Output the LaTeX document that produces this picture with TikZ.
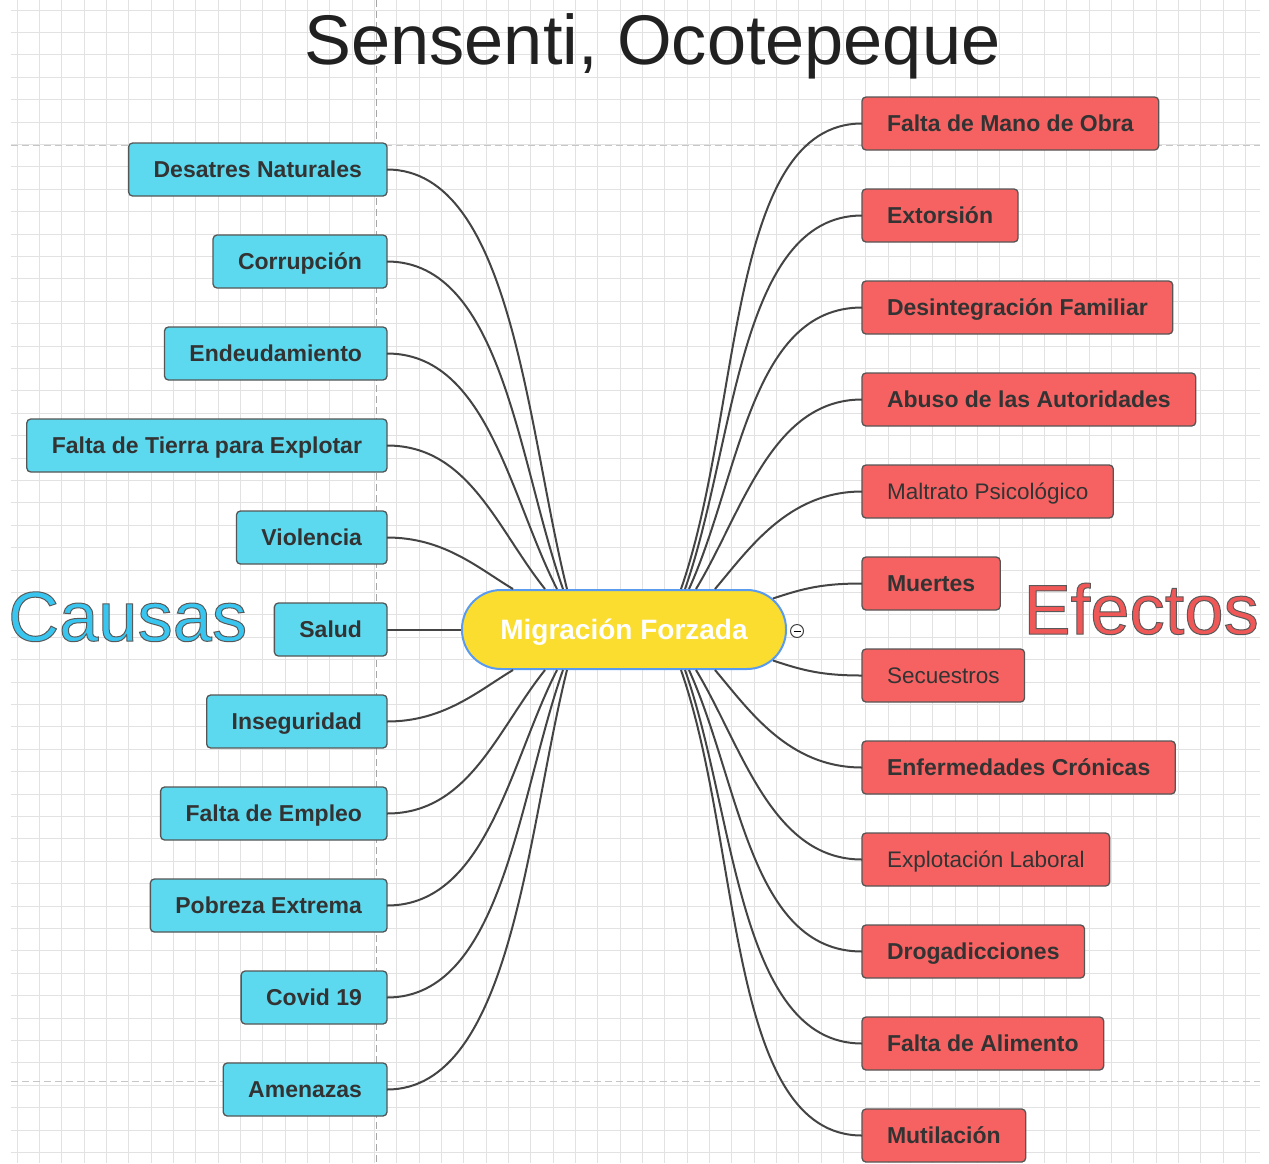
\documentclass[tikz,border=0pt]{standalone}
\usepackage{fontspec}
\setmainfont{Liberation Sans}
\usetikzlibrary{positioning,calc}

\definecolor{cyancausa}{RGB}{93,217,239}
\definecolor{rojoefecto}{RGB}{246,98,98}
\definecolor{amarillo}{RGB}{250,221,46}
\definecolor{azulborde}{RGB}{90,155,240}
\definecolor{gristexto}{RGB}{51,51,51}
\definecolor{grisborde}{RGB}{85,85,85}
\definecolor{grislinea}{RGB}{68,68,68}
\definecolor{cuadricula}{RGB}{226,226,226}
\definecolor{causastit}{RGB}{56,198,240}
\definecolor{efectostit}{RGB}{240,88,88}

% texto con contorno gris fino
\newcommand{\contorno}[1]{\special{pdf:literal direct 2 Tr 1 w 0.35 0.35 0.35 RG}#1\special{pdf:literal direct 0 Tr}}

\begin{document}
\begin{tikzpicture}[
  x=1pt, y=-1pt,
  node distance=39pt,
  caja/.style={draw=grisborde, line width=1.3pt, rounded corners=4pt,
    minimum height=53pt, inner xsep=25pt, inner ysep=0pt, outer sep=0pt,
    text height=20pt, text depth=3.9pt, text=gristexto,
    font=\bfseries\fontsize{23}{27}\selectfont},
  causa/.style={caja, fill=cyancausa, anchor=east},
  efecto/.style={caja, fill=rojoefecto, anchor=west},
  fino/.style={font=\fontsize{22.5}{27}\selectfont},
  rama/.style={draw=grislinea, line width=2pt},
  rejilla/.style={cuadricula, line width=1pt},
  corte/.style={line width=1pt, dash pattern=on 7pt off 4pt}
]

% Fondo y cuadrícula
\fill[white] (0,0) rectangle (1269,1163);
\useasboundingbox (0,0) rectangle (1269,1163);
\foreach \k in {0,...,55}
  \draw[rejilla] (17.3+22.33*\k,0) -- (17.3+22.33*\k,1163);
\foreach \k in {0,...,51}
  \draw[rejilla] (11,10+22.4*\k) -- (1260,10+22.4*\k);
\draw[corte, gray!45] (11,145) -- (1260,145);
\draw[corte, gray!45] (11,1081) -- (1260,1081);
\draw[corte, gray!70] (376,0) -- (376,1163);

% Títulos
\node[anchor=base, inner sep=0pt, text=black!87,
  font=\fontsize{70.3}{84}\selectfont] (titulo) at (652.5,64) {Sensenti, Ocotepeque};
\node[anchor=base west, inner sep=0pt,
  font=\fontsize{70.5}{80}\selectfont] (causas) at (8,641) {\color{causastit}\contorno{Causas}};
\node[anchor=base east, inner sep=0pt,
  font=\fontsize{70.5}{80}\selectfont] (efectos) at (1259,634) {\color{efectostit}\contorno{Efectos}};

% Nodo central
\node[draw=azulborde, line width=2pt, fill=amarillo, rounded corners=39pt,
  minimum width=324pt, minimum height=79pt, text=white,
  text height=24pt, text depth=4pt,
  font=\bfseries\fontsize{28}{34}\selectfont] (mf) at (624,629.5) {Migración Forzada};
\node[circle, draw=black!75, fill=white, line width=1pt, minimum size=13pt,
  inner sep=0pt] (plegar) at (797,631) {\rule[-0.5pt]{7pt}{1pt}};

% Causas
\node[causa] (desastres) at (387,169.5) {Desatres Naturales};
\node[causa, below=of desastres.south east, anchor=north east] (corrupcion) {Corrupción};
\node[causa, below=of corrupcion.south east, anchor=north east] (endeuda) {Endeudamiento};
\node[causa, below=of endeuda.south east, anchor=north east] (tierra) {Falta de Tierra para Explotar};
\node[causa, below=of tierra.south east, anchor=north east] (violencia) {Violencia};
\node[causa, below=of violencia.south east, anchor=north east] (salud) {Salud};
\node[causa, below=of salud.south east, anchor=north east] (inseg) {Inseguridad};
\node[causa, below=of inseg.south east, anchor=north east] (empleo) {Falta de Empleo};
\node[causa, below=of empleo.south east, anchor=north east] (pobreza) {Pobreza Extrema};
\node[causa, below=of pobreza.south east, anchor=north east] (covid) {Covid 19};
\node[causa, below=of covid.south east, anchor=north east] (amenazas) {Amenazas};

% Efectos
\node[efecto] (manoobra) at (862,123.5) {Falta de Mano de Obra};
\node[efecto, below=of manoobra.south west, anchor=north west] (extorsion) {Extorsión};
\node[efecto, below=of extorsion.south west, anchor=north west] (desinteg) {Desintegración Familiar};
\node[efecto, below=of desinteg.south west, anchor=north west] (abuso) {Abuso de las Autoridades};
\node[efecto, fino, below=of abuso.south west, anchor=north west] (maltrato) {Maltrato Psicológico};
\node[efecto, below=of maltrato.south west, anchor=north west] (muertes) {Muertes};
\node[efecto, fino, below=of muertes.south west, anchor=north west] (secuestros) {Secuestros};
\node[efecto, below=of secuestros.south west, anchor=north west] (enferm) {Enfermedades Crónicas};
\node[efecto, fino, below=of enferm.south west, anchor=north west] (explot) {Explotación Laboral};
\node[efecto, below=of explot.south west, anchor=north west] (drogas) {Drogadicciones};
\node[efecto, below=of drogas.south west, anchor=north west] (alimento) {Falta de Alimento};
\node[efecto, below=of alimento.south west, anchor=north west] (mutilacion) {Mutilación};

% Ramas de las causas
\draw[rama] (desastres.east) .. controls +(125,0) and +(-40,-160) .. ($(mf.north)+(-57,0)$);
\draw[rama] (corrupcion.east) .. controls +(115,0) and +(-45,-128) .. ($(mf.north)+(-61,0)$);
\draw[rama] (endeuda.east) .. controls +(100,0) and +(-47,-92) .. ($(mf.north)+(-67,0)$);
\draw[rama] (tierra.east) .. controls +(82,0) and +(-48,-60) .. ($(mf.north)+(-79,0)$);
\draw[rama] (violencia.east) .. controls +(57,0) and +(-35,-21) .. ($(mf.north)+(-111,0)$);
\draw[rama] (salud.east) -- (mf.west);
\draw[rama] (inseg.east) .. controls +(57,0) and +(-35,21) .. ($(mf.south)+(-111,0)$);
\draw[rama] (empleo.east) .. controls +(82,0) and +(-48,60) .. ($(mf.south)+(-79,0)$);
\draw[rama] (pobreza.east) .. controls +(100,0) and +(-47,92) .. ($(mf.south)+(-67,0)$);
\draw[rama] (covid.east) .. controls +(115,0) and +(-45,128) .. ($(mf.south)+(-61,0)$);
\draw[rama] (amenazas.east) .. controls +(125,0) and +(-40,160) .. ($(mf.south)+(-57,0)$);

% Ramas de los efectos
\draw[rama] (manoobra.west) .. controls +(-135,0) and +(61,-175) .. ($(mf.north)+(57,0)$);
\draw[rama] (extorsion.west) .. controls +(-124,0) and +(50,-142) .. ($(mf.north)+(61,0)$);
\draw[rama] (desinteg.west) .. controls +(-112,0) and +(51,-113) .. ($(mf.north)+(65,0)$);
\draw[rama] (abuso.west) .. controls +(-91,0) and +(46,-76) .. ($(mf.north)+(72,0)$);
\draw[rama] (maltrato.west) .. controls +(-74,0) and +(34,-40) .. ($(mf.north)+(91,0)$);
\draw[rama] (muertes.west) .. controls +(-40,0) and +(30,-10) .. ($(mf.center)+(149,-31)$);
\draw[rama] (secuestros.west) .. controls +(-40,0) and +(30,10) .. ($(mf.center)+(149,31)$);
\draw[rama] (enferm.west) .. controls +(-74,0) and +(34,40) .. ($(mf.south)+(91,0)$);
\draw[rama] (explot.west) .. controls +(-91,0) and +(46,76) .. ($(mf.south)+(72,0)$);
\draw[rama] (drogas.west) .. controls +(-112,0) and +(51,113) .. ($(mf.south)+(65,0)$);
\draw[rama] (alimento.west) .. controls +(-124,0) and +(50,142) .. ($(mf.south)+(61,0)$);
\draw[rama] (mutilacion.west) .. controls +(-135,0) and +(61,175) .. ($(mf.south)+(57,0)$);

\end{tikzpicture}
\end{document}
